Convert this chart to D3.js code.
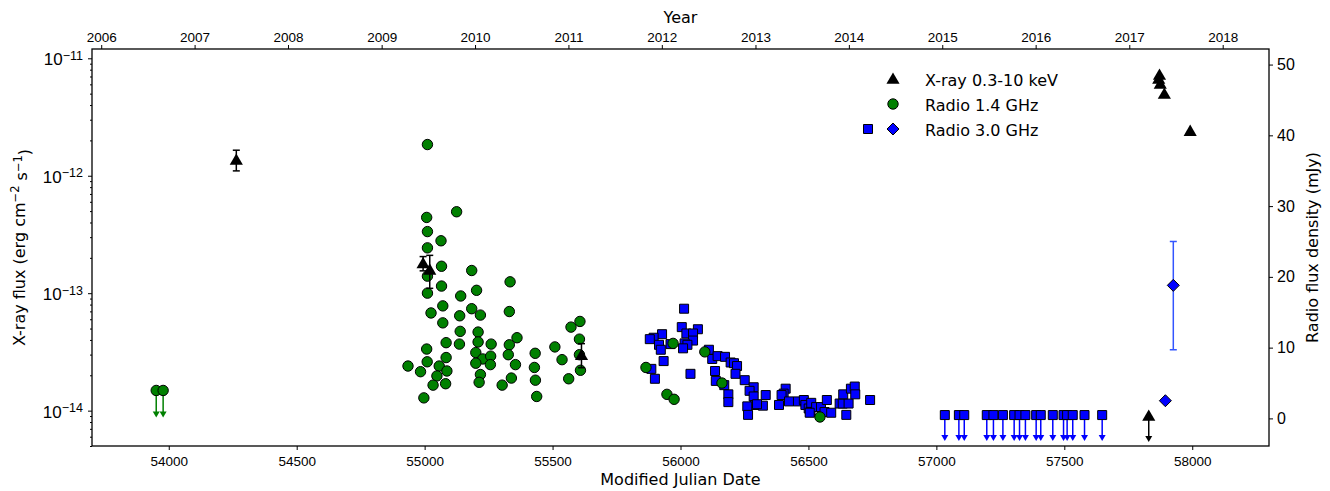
<!DOCTYPE html>
<html>
<head>
<meta charset="utf-8">
<script src="https://cdn.jsdelivr.net/npm/d3@7"></script>
<style>
  body { margin: 0; background: #fff; }
  svg { font-family: "DejaVu Sans", sans-serif; }
  .axis text { fill: #000; }
  .axis line { stroke: #000; }
</style>
</head>
<body>
<div id="viz-container"></div>
<script>
// X-ray detections: [MJD, flux, lower, upper]
var xrayPoints = [
	[54264, 1.36e-12, 1.10e-12, 1.65e-12],
	[54994, 1.79e-13, 1.55e-13, 2.05e-13],
	[55020, 1.58e-13, 1.10e-13, 2.10e-13],
	[55613, 2.96e-14, 2.32e-14, 3.72e-14],
	[57869, 6.66e-12, 6.66e-12, 6.66e-12],
	[57872, 7.20e-12, 7.20e-12, 7.20e-12],
	[57875, 6.04e-12, 6.04e-12, 6.04e-12],
	[57891, 4.96e-12, 4.96e-12, 4.96e-12],
	[57992, 2.40e-12, 2.40e-12, 2.40e-12]
];
var xrayLimits = [[57830, 9.0e-15]];

// Radio 1.4 GHz (mJy)
var radio14 = [
	[55011, 38.7], [55008, 28.4], [55125, 29.2], [55011, 26.4], [55064, 25.1],
	[55011, 24.1], [55066, 21.5], [55011, 20.1], [55184, 20.9], [55066, 18.7],
	[55011, 17.7], [55203, 18.1], [55141, 17.3], [55071, 15.9], [55025, 14.9],
	[55184, 15.5], [55218, 14.6], [55137, 14.5], [55071, 13.5], [55139, 12.3],
	[55209, 12.2], [55084, 10.7], [55136, 10.5], [55209, 10.8], [55260, 10.5],
	[55008, 9.8], [55200, 9.3], [55084, 8.6], [55010, 8.0], [55227, 8.4],
	[55258, 8.8], [55200, 7.8], [55257, 7.6], [54935, 7.4], [55057, 7.4],
	[54984, 6.6], [55087, 6.7], [55048, 6.0], [55218, 6.2], [55033, 4.7],
	[55082, 4.9], [55213, 5.1], [55303, 4.7], [54997, 2.9],
	[55334, 19.3], [55331, 15.1], [55361, 11.4], [55331, 10.4], [55327, 9.0],
	[55355, 7.6], [55339, 5.7], [55432, 9.2], [55429, 7.2], [55433, 5.4],
	[55438, 3.1], [55509, 10.1], [55537, 8.3], [55563, 5.6], [55572, 12.9],
	[55607, 13.7], [55605, 11.2], [55605, 9.0], [55609, 6.8],
	[55865, 7.2], [55971, 10.6], [55947, 3.4], [55975, 2.7], [56095, 9.4],
	[56162, 5.0], [56545, 0.2]
];
var radio14Limits = [[53951, 3.95], [53978, 3.95]];

// Radio 3.0 GHz squares (mJy)
var radio3 = [
	[56014, 15.5], [56005, 12.9], [56068, 12.6], [56023, 12.0], [56049, 12.0],
	[55928, 11.9], [55895, 11.4], [55880, 11.2], [56049, 11.0], [56016, 10.6],
	[56027, 10.4], [55961, 10.5], [55916, 10.4], [56010, 9.9], [55923, 9.7],
	[56111, 9.7], [56124, 8.4], [56145, 8.8], [56174, 8.7], [56196, 7.9],
	[56209, 7.8], [56221, 7.4], [55934, 8.1], [55886, 7.0], [56135, 6.7],
	[56215, 6.3], [56039, 6.3], [55900, 5.6], [56251, 5.4], [56138, 5.3],
	[56171, 4.7], [56286, 4.4], [56270, 3.9], [56187, 3.4], [56286, 3.1],
	[56187, 2.3], [56290, 1.9], [56261, 1.7], [56264, 0.5],
	[56333, 3.3], [56411, 4.2], [56403, 3.5], [56395, 3.3], [56385, 1.9],
	[56424, 2.4], [56322, 1.8], [56299, 2.0], [56459, 2.4], [56482, 2.6],
	[56488, 1.9], [56501, 1.4], [56511, 2.2], [56508, 0.9], [56530, 1.6],
	[56549, 1.6], [56563, 0.9], [56572, 2.6], [56589, 0.8], [56622, 2.1],
	[56634, 2.1], [56657, 2.1], [56636, 3.4], [56666, 4.2], [56681, 4.5],
	[56683, 3.4], [56648, 0.5], [56741, 2.6], [56505, 0.8]
];
var radio3LimitMjd = [57033, 57088, 57109, 57197, 57223, 57260, 57304, 57325, 57348,
	57390, 57408, 57455, 57497, 57511, 57533, 57579, 57648];
var radio3LimitVal = 0.47;

// Radio 3.0 GHz diamonds: [MJD, value, lower, upper]
var radio3Diamonds = [[57895, 2.5, 2.5, 2.5], [57926, 18.8, 9.7, 25.0]];

var yearLabels = ['2006', '2007', '2008', '2009', '2010', '2011', '2012', '2013', '2014', '2015', '2016', '2017', '2018'];
var yearMjd = [53736, 54101, 54466, 54832, 55197, 55562, 55927, 56293, 56658, 57023, 57388, 57754, 58119];
var mjdTicks = [54000, 54500, 55000, 55500, 56000, 56500, 57000, 57500, 58000];
var fluxTicks = [1e-14, 1e-13, 1e-12, 1e-11];
var fluxExp = ['\u221214', '\u221213', '\u221212', '\u221211'];
var radioTicks = [0, 10, 20, 30, 40, 50];

function init() {
	var svg = d3.select('#viz-container').append('svg')
		.attr('width', 1330)
		.attr('height', 491);

	var margin = {top: 49, right: 61, bottom: 45, left: 92},
	    width = 1330 - margin.left - margin.right,
	    height = 491 - margin.top - margin.bottom;

	var x = d3.scaleLinear().domain([53700, 58300]).range([margin.left, margin.left + width]);
	var yL = d3.scaleLog().domain([5e-15, 1.2e-11]).range([margin.top + height, margin.top]);
	var yR = d3.scaleLinear().domain([-3.9, 52.2]).range([margin.top + height, margin.top]);

	var bottom = margin.top + height, right = margin.left + width;

	// axes
	var gb = svg.append('g').attr('class', 'axis')
		.attr('transform', 'translate(0,' + bottom + ')')
		.call(d3.axisBottom(x).tickValues(mjdTicks).tickFormat(d3.format('d')).tickSize(4).tickSizeOuter(0));
	gb.selectAll('text').style('font-size', '13.5px').attr('dy', '0.95em');

	var gt = svg.append('g').attr('class', 'axis')
		.attr('transform', 'translate(0,' + margin.top + ')')
		.call(d3.axisTop(x).tickValues(yearMjd).tickFormat(function(d, i) { return yearLabels[i]; }).tickSize(4).tickSizeOuter(0));
	gt.selectAll('text').style('font-size', '13.5px');

	var minor = [];
	for (var e = -15; e <= -12; e++) {
		for (var m = 2; m <= 9; m++) {
			var v = m * Math.pow(10, e);
			if (v >= 5e-15 && v <= 1.2e-11) minor.push(v);
		}
	}
	svg.append('g').attr('class', 'axis')
		.attr('transform', 'translate(' + margin.left + ',0)')
		.call(d3.axisLeft(yL).tickValues(minor).tickFormat('').tickSize(2).tickSizeOuter(0));

	var gl = svg.append('g').attr('class', 'axis')
		.attr('transform', 'translate(' + margin.left + ',0)')
		.call(d3.axisLeft(yL).tickValues(fluxTicks).tickFormat('').tickSize(4).tickSizeOuter(0));
	gl.selectAll('.tick').each(function(d, i) {
		var t = d3.select(this).append('text')
			.attr('x', -9).attr('dy', '0.38em')
			.attr('text-anchor', 'end')
			.style('font-size', '17px');
		t.append('tspan').text('10');
		t.append('tspan').attr('dy', '-0.45em').style('font-size', '12.5px').text(fluxExp[i]);
	});

	var gr = svg.append('g').attr('class', 'axis')
		.attr('transform', 'translate(' + right + ',0)')
		.call(d3.axisRight(yR).tickValues(radioTicks).tickSize(4).tickSizeOuter(0));
	gr.selectAll('text').style('font-size', '16px').attr('x', 8);

	svg.selectAll('.axis .domain').remove();

	svg.append('rect')
		.attr('x', margin.left).attr('y', margin.top)
		.attr('width', width).attr('height', height)
		.attr('fill', 'none').attr('stroke', '#000').attr('stroke-width', 1.3);

	// labels
	svg.append('text').attr('x', (margin.left + right) / 2).attr('y', 485)
		.attr('text-anchor', 'middle').style('font-size', '16px').text('Modified Julian Date');
	svg.append('text').attr('x', (margin.left + right) / 2).attr('y', 23)
		.attr('text-anchor', 'middle').style('font-size', '16px').text('Year');
	var yl = svg.append('text')
		.attr('transform', 'translate(25,' + (margin.top + height / 2) + ') rotate(-90)')
		.attr('text-anchor', 'middle').style('font-size', '16px');
	yl.append('tspan').text('X-ray flux (erg cm');
	yl.append('tspan').attr('dy', '-0.5em').style('font-size', '11.5px').text('\u22122');
	yl.append('tspan').attr('dy', '0.5em').text(' s');
	yl.append('tspan').attr('dy', '-0.5em').style('font-size', '11.5px').text('\u22121');
	yl.append('tspan').attr('dy', '0.5em').text(')');
	svg.append('text')
		.attr('transform', 'translate(1318,' + (margin.top + height / 2) + ') rotate(-90)')
		.attr('text-anchor', 'middle').style('font-size', '16px').text('Radio flux density (mJy)');

	var sqSym = d3.symbol().type(d3.symbolSquare).size(81);
	var triSym = d3.symbol().type(d3.symbolTriangle).size(75);
	var circSym = d3.symbol().type(d3.symbolCircle).size(85);
	var diaSym = function(s) { return 'M0,' + (-s) + 'L' + s + ',0L0,' + s + 'L' + (-s) + ',0Z'; };

	function arrow(g, cx, y0, y1, color) {
		g.append('line').attr('x1', cx).attr('x2', cx).attr('y1', y0).attr('y2', y1 - 4)
			.attr('stroke', color).attr('stroke-width', 1.5);
		g.append('path').attr('d', 'M' + (cx - 3.5) + ',' + (y1 - 5) + 'L' + (cx + 3.5) + ',' + (y1 - 5) + 'L' + cx + ',' + (y1 + 1) + 'Z')
			.attr('fill', color);
	}

	function errbar(g, cx, yTop, yBot, color) {
		g.append('line').attr('x1', cx).attr('x2', cx).attr('y1', yTop).attr('y2', yBot)
			.attr('stroke', color).attr('stroke-width', 1.5);
		[yTop, yBot].forEach(function(yy) {
			g.append('line').attr('x1', cx - 3.5).attr('x2', cx + 3.5).attr('y1', yy).attr('y2', yy)
				.attr('stroke', color).attr('stroke-width', 1.5);
		});
	}

	var plot = svg.append('g');

	// radio 3.0 GHz
	var gBlue = plot.append('g');
	radio3LimitMjd.forEach(function(d) {
		arrow(gBlue, x(d), yR(radio3LimitVal), yR(radio3LimitVal) + 25, '#0000ff');
	});
	gBlue.selectAll('.sq').data(radio3.concat(radio3LimitMjd.map(function(d) { return [d, radio3LimitVal]; })))
		.enter().append('path')
		.attr('d', sqSym)
		.attr('transform', function(d) { return 'translate(' + x(d[0]) + ',' + yR(d[1]) + ')'; })
		.attr('fill', '#0000ff').attr('stroke', '#000').attr('stroke-width', 1);
	radio3Diamonds.forEach(function(d) {
		if (d[3] > d[2]) errbar(gBlue, x(d[0]), yR(d[3]), yR(d[2]), '#3355ff');
	});
	gBlue.selectAll('.dia').data(radio3Diamonds).enter().append('path')
		.attr('d', diaSym(6))
		.attr('transform', function(d) { return 'translate(' + x(d[0]) + ',' + yR(d[1]) + ')'; })
		.attr('fill', '#0000ff').attr('stroke', '#000').attr('stroke-width', 1);

	// radio 1.4 GHz
	var gGreen = plot.append('g');
	radio14Limits.forEach(function(d) {
		arrow(gGreen, x(d[0]), yR(d[1]), yR(d[1]) + 26, '#008000');
	});
	gGreen.selectAll('.c').data(radio14.concat(radio14Limits)).enter().append('path')
		.attr('d', circSym)
		.attr('transform', function(d) { return 'translate(' + x(d[0]) + ',' + yR(d[1]) + ')'; })
		.attr('fill', '#008000').attr('stroke', '#000').attr('stroke-width', 1);

	// x-ray
	var gX = plot.append('g');
	xrayPoints.forEach(function(d) {
		if (d[3] > d[2]) errbar(gX, x(d[0]), yL(d[3]), yL(d[2]), '#000');
	});
	xrayLimits.forEach(function(d) {
		arrow(gX, x(d[0]), yL(d[1]), yL(d[1]) + 25, '#000');
	});
	gX.selectAll('.t').data(xrayPoints.concat(xrayLimits)).enter().append('path')
		.attr('d', triSym)
		.attr('transform', function(d) { return 'translate(' + x(d[0]) + ',' + (yL(d[1]) + 1) + ')'; })
		.attr('fill', '#000');

	// legend
	var lg = svg.append('g');
	lg.append('path').attr('d', triSym).attr('transform', 'translate(893,80)').attr('fill', '#000');
	lg.append('path').attr('d', circSym).attr('transform', 'translate(893,104)')
		.attr('fill', '#008000').attr('stroke', '#000');
	lg.append('path').attr('d', sqSym).attr('transform', 'translate(868,129)')
		.attr('fill', '#0000ff').attr('stroke', '#000');
	lg.append('path').attr('d', diaSym(6)).attr('transform', 'translate(893,129)')
		.attr('fill', '#0000ff').attr('stroke', '#000');
	var labels = ['X-ray 0.3-10 keV', 'Radio 1.4 GHz', 'Radio 3.0 GHz'];
	lg.selectAll('.lt').data(labels).enter().append('text')
		.attr('x', 925).attr('y', function(d, i) { return 80 + i * 25; })
		.attr('dy', '0.35em').style('font-size', '16px').text(function(d) { return d; });
}

init();
</script>
</body>
</html>
